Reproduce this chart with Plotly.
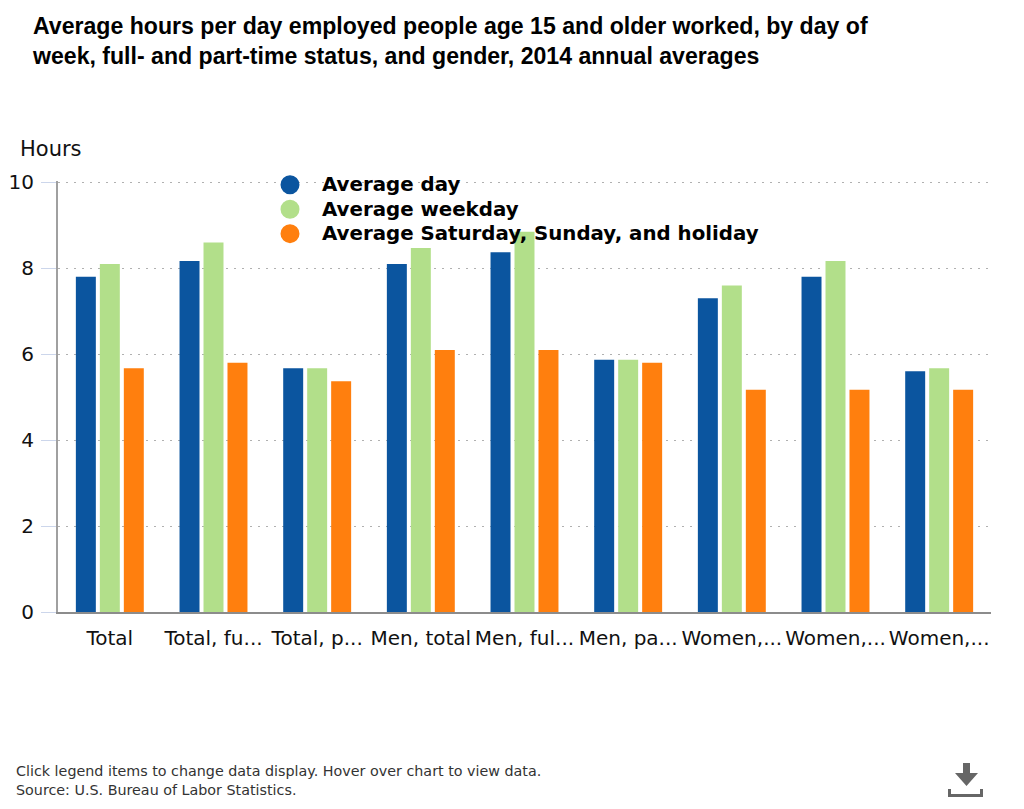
import plotly.graph_objects as go

categories = ["Total", "Total, fu...", "Total, p...", "Men, total", "Men, ful...", "Men, pa...", "Women,...", "Women,...", "Women,..."]
category_ids = ["c0", "c1", "c2", "c3", "c4", "c5", "c6", "c7", "c8"]
average_day = [7.8, 8.17, 5.67, 8.1, 8.37, 5.87, 7.3, 7.8, 5.6]
average_weekday = [8.1, 8.6, 5.67, 8.47, 8.85, 5.87, 7.6, 8.17, 5.67]
average_weekend = [5.67, 5.8, 5.37, 6.1, 6.1, 5.8, 5.17, 5.17, 5.17]
series_names = ["Average day", "Average weekday", "Average Saturday, Sunday, and holiday"]
series_colors = ["#0b559f", "#b2df8a", "#ff7f0e"]
series_values = [average_day, average_weekday, average_weekend]
y_ticks = [0, 2, 4, 6, 8, 10]

FONT = "DejaVu Sans"
W, H = 1024, 809
L, R, T, B = 58, 33, 181, 197
PW, PH = W - L - R, H - T - B

def px(x):
    return (x - L) / PW

def py(y):
    return 1 - (y - T) / PH

fig = go.Figure()
for name, color, vals in zip(series_names, series_colors, series_values):
    fig.add_trace(go.Bar(name=name, x=category_ids, y=vals, marker=dict(color=color, line=dict(width=0)),
                         showlegend=False, legendgroup=name))
for name, color in zip(series_names, series_colors):
    fig.add_trace(go.Scatter(name=f'<span style="font-size:19.8px">{name}</span>', x=[None], y=[None],
                             mode="markers", legendgroup=name,
                             marker=dict(color=color, size=16, symbol="circle", line=dict(color=color, width=3))))

icon = (f"M {px(963)} {py(763)} L {px(970)} {py(763)} L {px(970)} {py(773)} L {px(978)} {py(773)} "
        f"L {px(966.5)} {py(786)} L {px(955)} {py(773)} L {px(963)} {py(773)} Z")
tray = (f"M {px(948)} {py(789)} L {px(951)} {py(789)} L {px(951)} {py(794)} L {px(980)} {py(794)} "
        f"L {px(980)} {py(789)} L {px(983)} {py(789)} L {px(983)} {py(797)} L {px(948)} {py(797)} Z")

fig.update_layout(
    width=W, height=H, autosize=False,
    margin=dict(l=L, r=R, t=T, b=B, pad=0, autoexpand=False),
    paper_bgcolor="white", plot_bgcolor="white",
    font=dict(family=FONT, color="#111111"),
    barmode="group", bargap=0.306, bargroupgap=0.167,
    showlegend=True,
    legend=dict(x=px(258), y=py(167.5), xanchor="left", yanchor="top",
                bgcolor="rgba(0,0,0,0)", borderwidth=0, itemsizing="trace", itemwidth=54,
                font=dict(family=FONT, size=16.5, color="#000000", weight="bold"),
                tracegroupgap=0, itemclick=False, itemdoubleclick=False),
    xaxis=dict(type="category", tickmode="array", tickvals=category_ids, ticktext=categories, automargin=False,
               tickfont=dict(size=20, family=FONT, color="#111111"), ticks="", showgrid=False,
               showline=True, linecolor="#8c8c8c", linewidth=2, zeroline=False, ticklabelstandoff=7),
    yaxis=dict(range=[0, 10.03], tickmode="array", tickvals=y_ticks, ticks="outside", ticklen=15, tickwidth=1,
               automargin=False,
               tickcolor="#ccd6eb", tickfont=dict(size=20, family=FONT, color="#111111"), ticklabelstandoff=3,
               showgrid=True, gridcolor="#b0b0b0", griddash="2px,6px", gridwidth=1,
               showline=True, linecolor="#a0a0a0", linewidth=2, zeroline=False),
    title=dict(text="<b>Average hours per day employed people age 15 and older worked, by day of<br>"
                    "week, full- and part-time status, and gender, 2014 annual averages</b>",
               x=33 / W, xanchor="left", y=1 - 34 / H, yanchor="top",
               font=dict(family="Liberation Sans", size=23.1, color="#000000")),
    annotations=[
        dict(text="Hours", xref="paper", yref="paper", x=px(18), y=py(149), xanchor="left", yanchor="middle",
             showarrow=False, font=dict(size=21, family=FONT, color="#111111")),
        dict(text="Click legend items to change data display. Hover over chart to view data.<br>Source: U.S. Bureau of Labor Statistics.",
             xref="paper", yref="paper", x=px(14), y=py(780), xanchor="left", yanchor="middle", align="left",
             showarrow=False, font=dict(size=14.3, family=FONT, color="#333333")),
    ],
    shapes=[
        dict(type="path", path=icon, xref="paper", yref="paper", fillcolor="#666666", line=dict(width=0), layer="above"),
        dict(type="path", path=tray, xref="paper", yref="paper", fillcolor="#666666", line=dict(width=0), layer="above"),
    ],
)
fig.write_html("out.html", config=dict(displayModeBar=False),
               post_script="document.body.style.margin='0';document.body.style.overflow='hidden';")
